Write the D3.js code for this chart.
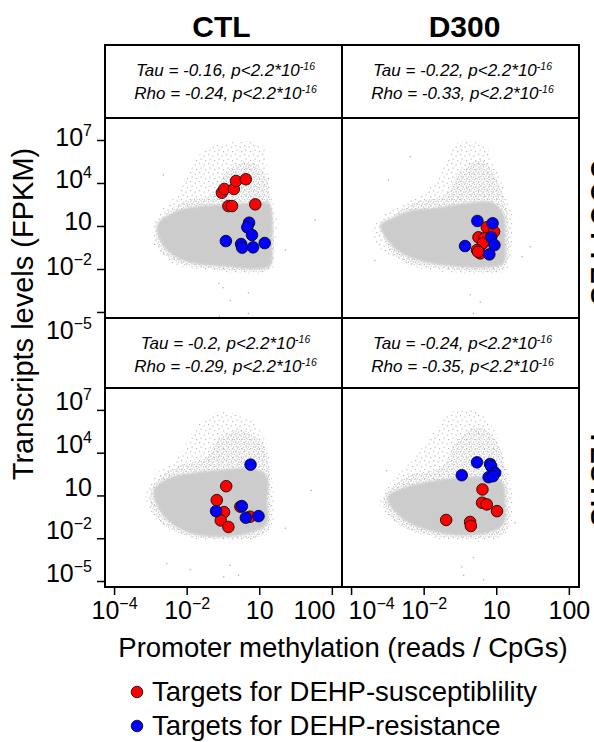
<!DOCTYPE html>
<html><head><meta charset="utf-8">
<script src="https://cdn.jsdelivr.net/npm/d3@7"></script>
<style>html,body{margin:0;padding:0;background:#fff;}svg{display:block;}</style>
</head><body>
<svg id="c" width="594" height="742"></svg>
<script>
// ---------- data (all positions in log10 units) ----------
const columns = ["CTL", "D300"];
const rowLabels = ["OOCYTES", "TESTIS"];   // strip labels cut off at right edge
const tauValues = ["-0.16", "-0.22", "-0.2", "-0.24"];   // TL, TR, BL, BR
const rhoValues = ["-0.24", "-0.33", "-0.29", "-0.35"];
const pValueExp = "-16";

const xTickValues = [1e-4, 1e-2, 1, 100];
const xTickLabels = [["10", "\u22124"], ["10", "\u22122"], ["10", ""], ["100", ""]];
const yTickValues = [1e7, 1e4, 10, 1e-2, 1e-5];
const yTickLabels = [["10", "7"], ["10", "4"], ["10", ""], ["10", "\u22122"], ["10", "\u22125"]];

const legendLabels = ["Targets for DEHP-susceptiblility", "Targets for DEHP-resistance"];

// susceptibility (red) targets, [log10 methylation, log10 FPKM]
const redTL = [[-1.03,3.32],[-0.96,3.58],[-0.70,3.58],[-0.64,4.14],[-0.37,4.26],[-0.85,2.39],[-0.75,2.39],[-0.11,2.51]];
const redTR = [[-0.26,0.91],[-0.06,0.60],[-0.49,0.21],[-0.33,0.14],[-0.37,-0.21],[-0.53,-0.68],[-0.44,-0.91],[-0.50,-0.80]];
const redBL = [[-0.91,1.65],[-1.17,0.67],[-0.97,-0.17],[-1.06,-0.75],[-0.85,-1.21],[-0.52,0.21],[-0.25,-0.49]];
const redBR = [[-0.38,1.42],[-0.39,0.49],[-0.26,0.37],[0.02,-0.10],[-1.38,-0.72],[-0.72,-0.86],[-0.70,-1.14]];
// resistance (blue) targets
const blueTL = [[-0.28,1.23],[-0.33,0.91],[-0.20,0.37],[-0.92,-0.05],[-0.50,-0.26],[-0.47,-0.51],[-0.17,-0.49],[0.15,-0.19]];
const blueTR = [[-0.52,1.35],[-0.10,1.19],[-0.14,0.21],[-0.86,-0.40],[-0.05,-0.33],[-0.19,-0.98]];
const blueBL = [[-0.24,3.16],[-1.19,-0.10],[-0.48,0.25],[-0.37,-0.56],[-0.02,-0.45]];
const blueBR = [[-0.53,3.32],[-0.17,3.21],[-0.14,3.04],[-0.03,2.58],[-0.21,2.28],[-0.95,2.42],[-0.09,2.35]];

// background gene cloud outlines (sparse envelope, medium zone, dense core) and isolated genes
const cloudOuterTL = [[-2.92,1.07],[-2.69,2.12],[-2.32,3.05],[-2.0,4.44],[-1.6,6.1],[-0.94,6.77],[0.07,6.65],[0.21,5.37],[0.35,2.81],[0.49,1.42],[0.44,-0.68],[0.35,-2.07],[-0.11,-2.3],[-1.49,-2.07],[-2.32,-1.72],[-2.69,-0.91],[-2.92,-0.21]];
const cloudMidTL = [[-2.75,1.3],[-2.1,2.7],[-1.3,3.2],[-0.9,4.8],[-0.3,5.5],[0.15,4.6],[0.3,2.8],[0.4,0.8],[0.36,-1.5],[0.2,-2.1],[-0.5,-2.15],[-1.5,-1.95],[-2.3,-1.5],[-2.8,-0.4]];
const cloudCoreTL = [[-2.82,1.07],[-2.32,2.0],[-1.77,2.35],[-1.0,2.5],[-0.2,2.6],[0.26,2.6],[0.35,2.0],[0.35,-0.2],[0.3,-1.8],[-0.11,-2.0],[-0.85,-1.84],[-1.77,-1.61],[-2.32,-1.14],[-2.69,-0.21]];
const outliersTL = [[1.54,1.42],[0.72,-0.68],[-1.12,-3.0],[-0.30,-3.65],[-1.0,-3.3],[-0.8,-4.2],[-1.1,-5.3],[-2.64,4.56],[-0.3,-5.1]];

const cloudOuterTR = [[-3.38,1.0],[-3.0,2.0],[-2.46,2.7],[-1.7,4.0],[-1.36,5.6],[-1.08,6.8],[-0.3,6.6],[-0.07,5.4],[0.3,3.0],[0.48,1.0],[0.4,-1.0],[0.25,-2.1],[-0.5,-2.3],[-1.5,-2.2],[-2.46,-1.7],[-3.0,-1.0],[-3.38,0.0]];
const cloudMidTR = [[-3.0,1.3],[-2.3,2.6],[-1.4,3.2],[-1.0,4.8],[-0.4,5.6],[-0.05,4.6],[0.25,2.6],[0.35,0.5],[0.3,-1.6],[0.1,-2.1],[-0.8,-2.15],[-1.8,-1.9],[-2.6,-1.4],[-3.05,-0.3]];
const cloudCoreTR = [[-3.2,1.07],[-2.83,1.6],[-2.46,2.0],[-1.54,2.3],[-0.81,2.6],[-0.07,2.6],[0.2,1.8],[0.25,0.0],[0.2,-1.6],[-0.3,-1.9],[-1.08,-1.84],[-2.0,-1.5],[-2.46,-1.1],[-2.83,-0.5]];
const outliersTR = [[0.94,-0.44],[0.71,-1.14],[-3.35,-1.4],[-2.97,4.21],[-2.37,5.84],[-0.63,-5.1],[-0.44,-4.3],[-0.72,-3.8]];

const cloudOuterBL = [[-3.1,1.4],[-2.8,2.6],[-2.2,3.8],[-1.8,5.6],[-1.2,6.8],[-0.3,6.4],[0.15,5.0],[0.3,3.0],[0.4,1.0],[0.35,-1.2],[0.0,-2.0],[-1.0,-2.2],[-2.0,-1.9],[-2.7,-1.0],[-3.1,0.3]];
const cloudMidBL = [[-2.95,1.6],[-2.3,3.0],[-1.5,3.6],[-1.1,5.0],[-0.5,5.6],[0.1,4.6],[0.28,2.8],[0.32,0.5],[0.28,-1.3],[0.0,-1.9],[-1.0,-2.05],[-2.0,-1.8],[-2.6,-1.1],[-3.0,0.3]];
const cloudCoreBL = [[-2.9,1.4],[-2.5,2.2],[-1.8,2.6],[-1.0,2.8],[-0.2,2.9],[0.2,2.4],[0.22,0.5],[0.2,-1.0],[-0.2,-1.6],[-1.0,-1.9],[-1.8,-1.7],[-2.4,-1.0],[-2.8,0.2]];
const outliersBL = [[1.43,1.35],[0.72,-1.30],[-2.55,-3.77],[-1.90,-4.2],[-0.98,-4.7],[-0.57,-4.6],[-0.8,-3.9]];

const cloudOuterBR = [[-3.2,0.9],[-2.8,2.2],[-2.3,3.5],[-1.7,5.5],[-1.2,6.9],[-0.5,6.9],[-0.1,5.8],[0.3,3.0],[0.45,1.0],[0.4,-1.0],[0.1,-2.0],[-1.0,-2.2],[-2.0,-1.8],[-2.8,-0.8],[-3.2,0.2]];
const cloudMidBR = [[-3.05,1.1],[-2.4,2.4],[-1.5,3.0],[-1.1,4.8],[-0.5,5.8],[0.0,4.8],[0.25,2.8],[0.35,0.5],[0.3,-1.3],[0.0,-1.9],[-1.0,-2.0],[-2.0,-1.7],[-2.7,-1.0],[-3.1,0.3]];
const cloudCoreBR = [[-3.0,0.9],[-2.6,1.5],[-2.0,1.9],[-1.2,2.2],[-0.3,2.3],[0.15,2.0],[0.25,0.5],[0.2,-1.0],[-0.2,-1.6],[-1.0,-1.8],[-1.8,-1.5],[-2.5,-0.8],[-2.9,0.2]];
const outliersBR = [[0.52,-0.91],[-0.63,-3.35],[-0.95,-4.0],[-0.9,-4.6],[-0.35,-4.9],[-3.02,2.74]];

// ---------- layout ----------
const FONT = "'Liberation Sans', Arial, Helvetica, sans-serif";
const colLeft = [105, 342], colW = 237;
const stripTop = [45, 318], plotTop = [118, 388], plotBottom = [318, 587];
const xDomainLog = [-4.25, 2.28], yDomainLog = [-5.42, 8.535];
const RED = "#ff0000", BLUE = "#0000ff";

const panels = [
  {r:0,c:0, red:redTL, blue:blueTL, outer:cloudOuterTL, mid:cloudMidTL, core:cloudCoreTL, out:outliersTL},
  {r:0,c:1, red:redTR, blue:blueTR, outer:cloudOuterTR, mid:cloudMidTR, core:cloudCoreTR, out:outliersTR},
  {r:1,c:0, red:redBL, blue:blueBL, outer:cloudOuterBL, mid:cloudMidBL, core:cloudCoreBL, out:outliersBL},
  {r:1,c:1, red:redBR, blue:blueBR, outer:cloudOuterBR, mid:cloudMidBR, core:cloudCoreBR, out:outliersBR}
];

const svg = d3.select("#c");
svg.append("rect").attr("width",594).attr("height",742).attr("fill","#fff");

const defs = svg.append("defs");
// speckle textures for the gene cloud
const pSparse = defs.append("pattern").attr("id","sparse").attr("width",9).attr("height",9).attr("patternUnits","userSpaceOnUse");
[[1,1],[5.5,2.5],[2.5,5.5],[7,7]].forEach(([a,b])=>pSparse.append("rect").attr("x",a).attr("y",b).attr("width",1.2).attr("height",1.2).attr("fill","#bdbdbd"));
const pMid = defs.append("pattern").attr("id","mid").attr("width",5).attr("height",5).attr("patternUnits","userSpaceOnUse");
[[0.5,0.5],[3,1.5],[1.5,3.3],[3.8,4]].forEach(([a,b])=>pMid.append("rect").attr("x",a).attr("y",b).attr("width",1.2).attr("height",1.2).attr("fill","#c0c0c0"));
const pCore = defs.append("pattern").attr("id","core").attr("width",4).attr("height",4).attr("patternUnits","userSpaceOnUse");
pCore.append("rect").attr("width",4).attr("height",4).attr("fill","#c9c9c9");
[[0.5,0.5],[2.5,2.5]].forEach(([a,b])=>pCore.append("rect").attr("x",a).attr("y",b).attr("width",1).attr("height",1).attr("fill","#e4e4e4"));
const blur = defs.append("filter").attr("id","soft").attr("x","-20%").attr("y","-20%").attr("width","140%").attr("height","140%");
blur.append("feGaussianBlur").attr("stdDeviation",1.2);

function xScale(c){ return d3.scaleLog().domain(xDomainLog.map(v=>10**v)).range([colLeft[c], colLeft[c]+colW]); }
function yScale(r){ return d3.scaleLog().domain(yDomainLog.map(v=>10**v)).range([plotBottom[r], plotTop[r]]); }

// column titles
columns.forEach((t,c)=>{
  svg.append("text").attr("x", colLeft[c]+colW/2 + (c===0?-2:4)).attr("y",37)
    .attr("text-anchor","middle").attr("font-family",FONT).attr("font-weight","bold")
    .attr("font-size",30).text(t);
});

panels.forEach((p,i)=>{
  const x = xScale(p.c), y = yScale(p.r);
  const x0 = colLeft[p.c];
  const clipId = "clip"+i;
  defs.append("clipPath").attr("id",clipId).append("rect")
    .attr("x",x0).attr("y",plotTop[p.r]).attr("width",colW).attr("height",plotBottom[p.r]-plotTop[p.r]);
  const g = svg.append("g").attr("clip-path",`url(#${clipId})`);
  const line = d3.line().x(d=>x(10**d[0])).y(d=>y(10**d[1])).curve(d3.curveCatmullRomClosed.alpha(0.5));
  g.append("path").attr("d",line(p.outer)).attr("fill","url(#sparse)");
  g.append("path").attr("d",line(p.mid)).attr("fill","url(#mid)");
  g.append("path").attr("d",line(p.core)).attr("fill","url(#core)").attr("filter","url(#soft)");
  g.selectAll("rect.o").data(p.out).join("rect").attr("class","o")
    .attr("x",d=>x(10**d[0])-0.6).attr("y",d=>y(10**d[1])-0.6).attr("width",1.3).attr("height",1.3).attr("fill","#b0b0b0");
  // targets
  const pts = p.red.map(d=>({d,col:RED})).concat(p.blue.map(d=>({d,col:BLUE})));
  g.selectAll("circle").data(pts).join("circle")
    .attr("cx",o=>x(10**o.d[0])).attr("cy",o=>y(10**o.d[1])).attr("r",5.8)
    .attr("fill",o=>o.col).attr("stroke","#000").attr("stroke-width",0.8);

  // strip (statistics box)
  svg.append("rect").attr("x",x0).attr("y",stripTop[p.r]).attr("width",colW).attr("height",plotTop[p.r]-stripTop[p.r])
    .attr("fill","none").attr("stroke","#000").attr("stroke-width",2);
  const cx = x0 + colW/2 + 2;
  const lines = [["Tau", tauValues[i]], ["Rho", rhoValues[i]]];
  lines.forEach(([nm,v],k)=>{
    const t = svg.append("text").attr("x",cx).attr("y",stripTop[p.r] + 31 + k*23)
      .attr("text-anchor","middle").attr("font-family",FONT).attr("font-style","italic").attr("font-size",17);
    t.append("tspan").text(`${nm} = ${v}, p<2.2*10`);
    t.append("tspan").attr("dy",-6).attr("font-size",10.5).text(pValueExp);
  });
  // plot border
  svg.append("rect").attr("x",x0).attr("y",plotTop[p.r]).attr("width",colW).attr("height",plotBottom[p.r]-plotTop[p.r])
    .attr("fill","none").attr("stroke","#000").attr("stroke-width",2);

  // axes
  if (p.r===1){
    const ax = svg.append("g").attr("transform",`translate(0,${plotBottom[1]})`)
      .call(d3.axisBottom(x).tickValues(xTickValues).tickSize(8).tickFormat(()=>""));
    ax.select(".domain").remove();
    ax.selectAll(".tick line").attr("stroke","#000").attr("stroke-width",1.5);
    ax.selectAll(".tick text").each(function(d,j){
      let anchor = "middle", shift = 0;
      if (p.c===0 && j===3){ anchor = "end"; shift = 3; }      // keep the two middle labels apart
      if (p.c===1 && j===0){ anchor = "start"; shift = -3; }
      const t = d3.select(this).attr("x",shift).attr("y",32).attr("dy",0).attr("text-anchor",anchor)
        .attr("font-family",FONT).attr("font-size",25).attr("fill","#000");
      t.append("tspan").text(xTickLabels[j][0]);
      if (xTickLabels[j][1]) t.append("tspan").attr("dy",-10).attr("font-size",16).text(xTickLabels[j][1]);
    });
  }
  if (p.c===0){
    const offs = p.r===0 ? [-3,-4,-5,-3,18] : [-9,-9,-9,-9,-9];
    const ay = svg.append("g").attr("transform",`translate(${colLeft[0]},0)`)
      .call(d3.axisLeft(y).tickValues(yTickValues).tickSize(8).tickFormat(()=>""));
    ay.select(".domain").remove();
    ay.selectAll(".tick line").attr("stroke","#000").attr("stroke-width",1.5);
    ay.selectAll(".tick text").each(function(d,j){
      const t = d3.select(this).attr("x",-13).attr("dy",0).attr("y",9+offs[j]).attr("text-anchor","end")
        .attr("font-family",FONT).attr("font-size",25).attr("fill","#000");
      t.append("tspan").text(yTickLabels[j][0]);
      if (yTickLabels[j][1]) t.append("tspan").attr("dy",-10).attr("font-size",16).text(yTickLabels[j][1]);
    });
  }
});

// row strip labels (clipped by page edge)
rowLabels.forEach((t,r)=>{
  const cy = r===0 ? 233 : 478;
  svg.append("text").attr("transform",`translate(591,${cy}) rotate(90)`)
    .attr("text-anchor","middle").attr("font-family",FONT).attr("font-weight","bold").attr("font-size",26)
    .attr("letter-spacing",r===0?3:1).text(t);
});

// axis titles
svg.append("text").attr("transform","translate(33,314) rotate(-90)").attr("text-anchor","middle")
  .attr("font-family",FONT).attr("font-size",29).text("Transcripts levels (FPKM)");
svg.append("text").attr("x",343).attr("y",657).attr("text-anchor","middle")
  .attr("font-family",FONT).attr("font-size",27.5).text("Promoter methylation (reads / CpGs)");

// legend
legendLabels.forEach((t,k)=>{
  const cy = 692 + k*34;
  svg.append("circle").attr("cx",137).attr("cy",cy).attr("r",5.8).attr("fill",k===0?RED:BLUE).attr("stroke","#000").attr("stroke-width",0.8);
  svg.append("text").attr("x",152).attr("y",cy+9).attr("font-family",FONT).attr("font-size",27.5).text(t);
});
</script>
</body></html>
